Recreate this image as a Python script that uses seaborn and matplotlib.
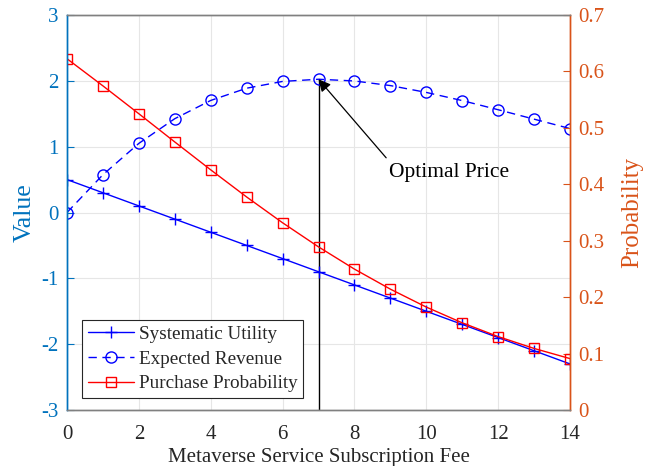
import matplotlib
matplotlib.use("Agg")
import matplotlib.pyplot as plt
import seaborn as sns
import pandas as pd
from matplotlib.lines import Line2D

fee = [0, 1, 2, 3, 4, 5, 6, 7, 8, 9, 10, 11, 12, 13, 14]
utility = [0.5, 0.3, 0.1, -0.1, -0.3, -0.5, -0.7, -0.9, -1.1, -1.3, -1.5, -1.7, -1.9, -2.1, -2.3]
revenue = [0.0, 0.574, 1.050, 1.425, 1.702, 1.888, 1.991, 2.024, 1.998, 1.928, 1.824, 1.700, 1.561, 1.418, 1.275]
probability = [0.6225, 0.5744, 0.5250, 0.4750, 0.4256, 0.3775, 0.3318, 0.2891, 0.2497,
               0.2142, 0.1824, 0.1545, 0.1301, 0.1091, 0.0911]
opt_fee = 7
opt_rev = 2.024

df = pd.DataFrame({"fee": fee, "utility": utility, "revenue": revenue, "prob": probability})

sns.set_style("white")
plt.rcParams["font.family"] = ["Liberation Serif", "DejaVu Serif"]
plt.rcParams["mathtext.fontset"] = "stix"

LEFT_C = "#0072BD"
RIGHT_C = "#D95319"
AX_C = "#262626"

fig = plt.figure(figsize=(6.54, 4.66), dpi=100)
ax = fig.add_axes([67/654, 1 - 410/466, (570-67)/654, (410-15)/466])
ax2 = ax.twinx()

sns.lineplot(data=df, x="fee", y="utility", ax=ax, color="blue", marker="+", markersize=8,
             markeredgecolor="blue", markeredgewidth=1.0, linewidth=1.0,
             label="Systematic Utility", legend=False)
sns.lineplot(data=df, x="fee", y="revenue", ax=ax, color="blue", marker="o", markersize=8,
             markerfacecolor="none", markeredgecolor="blue", markeredgewidth=1.0,
             linewidth=1.0, dashes=(6, 4), label="Expected Revenue", legend=False)
ax.plot([opt_fee, opt_fee], [-3, opt_rev], color="black", linewidth=1.0, zorder=1)

sns.lineplot(data=df, x="fee", y="prob", ax=ax2, color="red", marker="s", markersize=6.5,
             markerfacecolor="none", markeredgecolor="red", markeredgewidth=1.0,
             linewidth=1.0, label="Purchase Probability", legend=False)

ax.set_xlim(0, 14)
ax.set_ylim(-3, 3)
ax2.set_ylim(0, 0.7)
ax.set_xticks(range(0, 15, 2))
ax.set_yticks(range(-3, 4))
ax.set_yticklabels([str(v) for v in range(-3, 4)])
ax2.set_yticks([0, 0.1, 0.2, 0.3, 0.4, 0.5, 0.6, 0.7])
ax2.set_yticklabels(["0", "0.1", "0.2", "0.3", "0.4", "0.5", "0.6", "0.7"])

ax.grid(True, color="#e6e6e6", linewidth=0.8)
ax.set_axisbelow(True)

ax.set_xlabel("Metaverse Service Subscription Fee", fontsize=15, color=AX_C, labelpad=3)
ax.set_ylabel("Value", fontsize=18.5, color=LEFT_C, labelpad=4)
ax2.set_ylabel("Probability", fontsize=18, color=RIGHT_C, labelpad=12)

ax.tick_params(axis="x", direction="in", length=5, colors=AX_C, labelsize=15, pad=11)
ax.tick_params(axis="y", direction="in", length=5, colors=LEFT_C, labelsize=15, pad=6)
ax2.tick_params(axis="y", direction="in", length=5, colors=RIGHT_C, labelsize=15, pad=6)
ax2.tick_params(axis="x", which="both", length=0)

for a in (ax, ax2):
    a.spines["top"].set_color("#808080")
    a.spines["bottom"].set_color("#808080")
    for s in a.spines.values():
        s.set_linewidth(1.0)
ax.spines["left"].set_color(LEFT_C)
ax2.spines["left"].set_color(LEFT_C)
ax.spines["right"].set_color(RIGHT_C)
ax2.spines["right"].set_color(RIGHT_C)

ax.annotate("Optimal Price", xy=(opt_fee, opt_rev), xytext=(8.95, 0.60),
            fontsize=15.5, color="black", ha="left", va="center",
            arrowprops=dict(arrowstyle="-|>", color="black", lw=0.9,
                            mutation_scale=18, shrinkA=0, shrinkB=0,
                            patchA=None, relpos=(-0.02, 1.3)))

handles = [
    Line2D([], [], color="blue", marker="+", markersize=8, linewidth=1.0),
    Line2D([], [], color="blue", marker="o", markersize=8, markerfacecolor="none",
           linewidth=1.0, dashes=(6, 4)),
    Line2D([], [], color="red", marker="s", markersize=6.5, markerfacecolor="none", linewidth=1.0),
]
labels = ["Systematic Utility", "Expected Revenue", "Purchase Probability"]
leg = ax2.legend(handles, labels, loc="lower left", bbox_to_anchor=(15/503, 12/395),
                 fontsize=13.8, frameon=True, fancybox=False, edgecolor="#262626",
                 handlelength=2.4, handletextpad=0.25, borderpad=0.3, labelspacing=0.38,
                 borderaxespad=0)
leg.get_frame().set_linewidth(0.8)
leg.get_frame().set_facecolor("white")
leg.get_frame().set_alpha(1)

fig.savefig("out.png", dpi=100)
